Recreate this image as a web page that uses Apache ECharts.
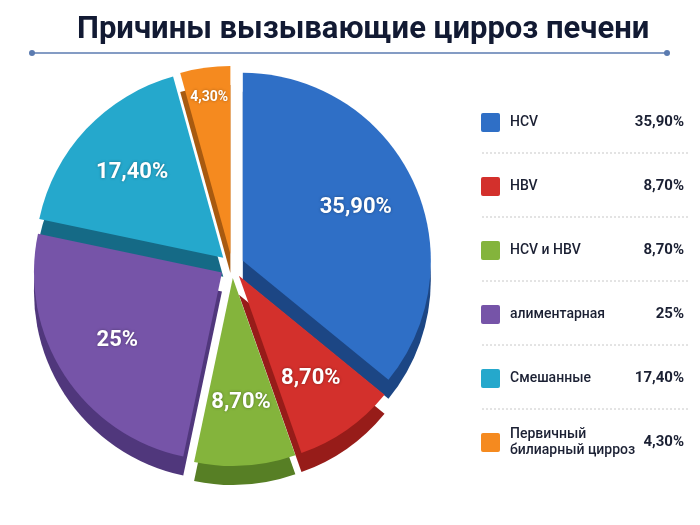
<!DOCTYPE html>
<html>
<head>
    <meta charset="utf-8">
    <title>ECharts</title>
    <script src="https://cdn.jsdelivr.net/npm/echarts@6/dist/echarts.min.js"></script>
    <style>
        html, body { margin: 0; padding: 0; background: #fff; }
    </style>
</head>
<body>
<div id="main" style="width: 700px;height:525px;"></div>
<script type="text/javascript">
    // данные диаграммы
    var names = ['HCV', 'HBV', 'HCV и HBV', 'алиментарная', 'Смешанные', 'Первичный\nбилиарный цирроз'];
    var values = [35.9, 8.7, 8.7, 25, 17.4, 4.3];
    var valueLabels = ['35,90%', '8,70%', '8,70%', '25%', '17,40%', '4,30%'];
    var colors = ['#2f6fc6', '#d3302c', '#84b43c', '#7654a8', '#25a8cc', '#f58a1f'];
    var sideColors = ['#1c4684', '#971c19', '#577f25', '#50377c', '#156a86', '#a85a10'];

    var myChart = echarts.init(document.getElementById('main'));

    var pieCenter = [232, 266], pieR = 188, depth = 19;
    var smallIdx = 5; // узкий сектор — подпись ближе к краю

    var topData = [], sideData = [], labelData = [], outerLabelData = [];
    for (var i = 0; i < names.length; i++) {
        topData.push({
            name: names[i], value: values[i], selected: true,
            itemStyle: { color: colors[i] }
        });
        sideData.push({
            name: names[i], value: values[i], selected: true,
            itemStyle: { color: sideColors[i] }
        });
        labelData.push({
            name: names[i], value: values[i], selected: true,
            label: { show: i !== smallIdx, fontSize: 22 }
        });
        outerLabelData.push({
            name: names[i], value: values[i], selected: true,
            label: { show: i === smallIdx, fontSize: 14 }
        });
    }

    // линия под заголовком и легенда справа
    var graphics = [
        { type: 'line', shape: { x1: 32, y1: 53, x2: 667, y2: 53 }, style: { stroke: '#5b7bb0', lineWidth: 1.5 } },
        { type: 'circle', shape: { cx: 32, cy: 53, r: 3 }, style: { fill: '#5b7bb0' } },
        { type: 'circle', shape: { cx: 667, cy: 53, r: 3 }, style: { fill: '#5b7bb0' } }
    ];
    var rowY0 = 122, rowStep = 64;
    for (var j = 0; j < names.length; j++) {
        var cy = rowY0 + j * rowStep;
        graphics.push({
            type: 'rect', shape: { x: 481, y: cy - 9, width: 19, height: 19, r: 2 },
            style: { fill: colors[j] }
        });
        graphics.push({
            type: 'text', x: 510, y: cy,
            style: {
                text: names[j], fill: '#1b2033', font: '500 14px Roboto',
                verticalAlign: 'middle', lineHeight: 16
            }
        });
        graphics.push({
            type: 'text', x: 684, y: cy,
            style: {
                text: valueLabels[j], fill: '#1b2033', font: 'bold 15px Roboto',
                align: 'right', verticalAlign: 'middle'
            }
        });
        if (j < names.length - 1) {
            graphics.push({
                type: 'line', shape: { x1: 482, y1: cy + 31, x2: 690, y2: cy + 31 },
                style: { stroke: '#c8c8c8', lineWidth: 1, lineDash: [2, 2] }
            });
        }
    }

    var labelStyle = {
        show: true,
        position: 'inside',
        color: '#ffffff',
        fontFamily: 'Roboto',
        fontWeight: 'bold',
        textShadowColor: 'rgba(0,0,0,0.35)',
        textShadowBlur: 3,
        formatter: function (p) { return valueLabels[p.dataIndex]; }
    };

    var option = {
        backgroundColor: '#ffffff',
        animation: false,
        title: {
            text: 'Причины вызывающие цирроз печени',
            left: 72,
            top: 10,
            textStyle: {
                fontFamily: 'Roboto',
                fontWeight: 'bold',
                fontSize: 31,
                color: '#121a33'
            }
        },
        graphic: graphics,
        series: [
            {
                name: 'side',
                type: 'pie',
                center: [pieCenter[0], pieCenter[1] + depth],
                radius: ['0%', pieR],
                startAngle: 90,
                selectedMode: 'multiple',
                selectedOffset: 12,
                silent: true,
                label: { show: false },
                labelLine: { show: false },
                data: sideData
            },
            {
                name: 'Причины',
                type: 'pie',
                center: pieCenter,
                radius: ['0%', pieR],
                startAngle: 90,
                selectedMode: 'multiple',
                selectedOffset: 12,
                silent: true,
                label: { show: false },
                labelLine: { show: false },
                data: topData
            },
            {
                // прозрачное кольцо только для подписей
                name: 'labels',
                type: 'pie',
                center: pieCenter,
                radius: [56, pieR],
                startAngle: 90,
                selectedMode: 'multiple',
                selectedOffset: 12,
                silent: true,
                avoidLabelOverlap: false,
                itemStyle: { color: 'rgba(0,0,0,0)' },
                label: labelStyle,
                labelLine: { show: false },
                labelLayout: { hideOverlap: false },
                data: labelData
            },
            {
                name: 'labelsOuter',
                type: 'pie',
                center: pieCenter,
                radius: [122, pieR],
                startAngle: 90,
                selectedMode: 'multiple',
                selectedOffset: 12,
                silent: true,
                avoidLabelOverlap: false,
                itemStyle: { color: 'rgba(0,0,0,0)' },
                label: labelStyle,
                labelLine: { show: false },
                labelLayout: { hideOverlap: false },
                data: outerLabelData
            }
        ]
    };

    myChart.setOption(option);
</script>
</body>
</html>
